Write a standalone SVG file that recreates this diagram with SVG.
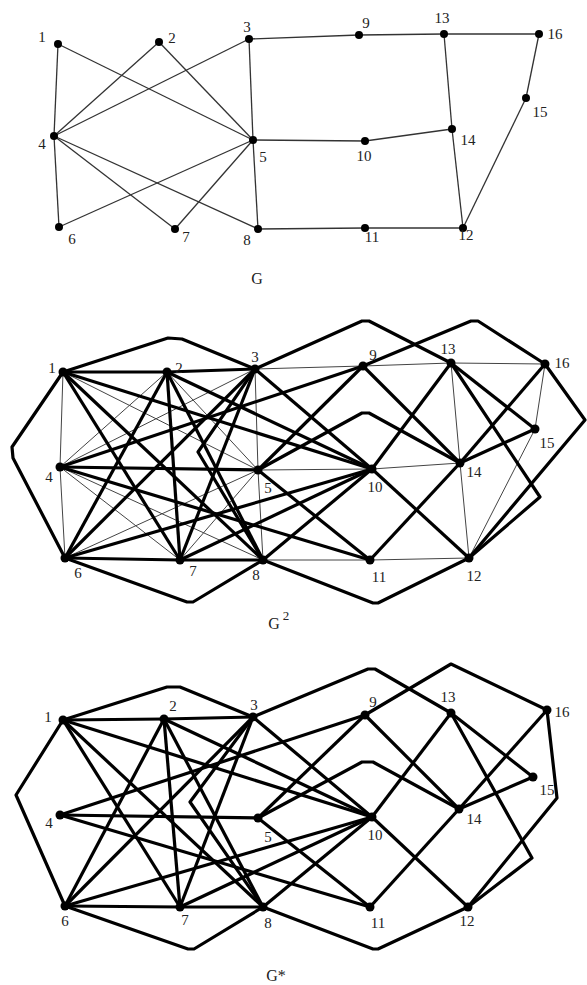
<svg xmlns="http://www.w3.org/2000/svg" width="587" height="985" viewBox="0 0 587 985">
<style>
.bg{fill:#fff}
.e0{stroke:#333;stroke-width:1.3;fill:none}
.thin{stroke:#444;stroke-width:1;fill:none}
.thick{stroke:#000;stroke-width:3.2;fill:none;stroke-linejoin:round}
.dot{fill:#000}
.lbl{font-family:"Liberation Serif","Times New Roman",serif;font-size:15px;fill:#222;text-anchor:middle}
.ttl{font-family:"Liberation Serif","Times New Roman",serif;font-size:16px;fill:#222;text-anchor:middle}
</style>
<rect class="bg" x="0" y="0" width="587" height="985"/>

<!-- ===== Graph G ===== -->
<g id="graph-G">
<g id="G-edges">
<line class="e0" x1="58" y1="44" x2="54" y2="136"/>
<line class="e0" x1="54" y1="136" x2="59" y2="227"/>
<line class="e0" x1="58" y1="44" x2="253" y2="140"/>
<line class="e0" x1="159" y1="42" x2="54" y2="136"/>
<line class="e0" x1="159" y1="42" x2="253" y2="140"/>
<line class="e0" x1="249" y1="39" x2="54" y2="136"/>
<line class="e0" x1="249" y1="39" x2="253" y2="140"/>
<line class="e0" x1="249" y1="39" x2="359" y2="35"/>
<line class="e0" x1="359" y1="35" x2="444" y2="34"/>
<line class="e0" x1="444" y1="34" x2="539" y2="34"/>
<line class="e0" x1="539" y1="34" x2="526" y2="98"/>
<line class="e0" x1="526" y1="98" x2="463" y2="228"/>
<line class="e0" x1="444" y1="34" x2="452" y2="129"/>
<line class="e0" x1="452" y1="129" x2="365" y2="141"/>
<line class="e0" x1="365" y1="141" x2="253" y2="140"/>
<line class="e0" x1="452" y1="129" x2="463" y2="228"/>
<line class="e0" x1="463" y1="228" x2="365" y2="228"/>
<line class="e0" x1="365" y1="228" x2="258" y2="229"/>
<line class="e0" x1="258" y1="229" x2="253" y2="140"/>
<line class="e0" x1="54" y1="136" x2="175" y2="229"/>
<line class="e0" x1="54" y1="136" x2="258" y2="229"/>
<line class="e0" x1="59" y1="227" x2="253" y2="140"/>
<line class="e0" x1="175" y1="229" x2="253" y2="140"/>
</g>
<g id="G-n1"><circle class="dot" cx="58" cy="44" r="4"/><text class="lbl" x="42" y="42">1</text></g>
<g id="G-n2"><circle class="dot" cx="159" cy="42" r="4"/><text class="lbl" x="172" y="43">2</text></g>
<g id="G-n3"><circle class="dot" cx="249" cy="39" r="4"/><text class="lbl" x="247" y="32">3</text></g>
<g id="G-n4"><circle class="dot" cx="54" cy="136" r="4"/><text class="lbl" x="42" y="149">4</text></g>
<g id="G-n5"><circle class="dot" cx="253" cy="140" r="4"/><text class="lbl" x="263" y="162">5</text></g>
<g id="G-n6"><circle class="dot" cx="59" cy="227" r="4"/><text class="lbl" x="72" y="244">6</text></g>
<g id="G-n7"><circle class="dot" cx="175" cy="229" r="4"/><text class="lbl" x="186" y="242">7</text></g>
<g id="G-n8"><circle class="dot" cx="258" cy="229" r="4"/><text class="lbl" x="247" y="245">8</text></g>
<g id="G-n9"><circle class="dot" cx="359" cy="35" r="4"/><text class="lbl" x="366" y="28">9</text></g>
<g id="G-n10"><circle class="dot" cx="365" cy="141" r="4"/><text class="lbl" x="364" y="161">10</text></g>
<g id="G-n11"><circle class="dot" cx="365" cy="228" r="4"/><text class="lbl" x="372" y="242">11</text></g>
<g id="G-n12"><circle class="dot" cx="463" cy="228" r="4"/><text class="lbl" x="466" y="240">12</text></g>
<g id="G-n13"><circle class="dot" cx="444" cy="34" r="4"/><text class="lbl" x="442" y="23">13</text></g>
<g id="G-n14"><circle class="dot" cx="452" cy="129" r="4"/><text class="lbl" x="468" y="145">14</text></g>
<g id="G-n15"><circle class="dot" cx="526" cy="98" r="4"/><text class="lbl" x="540" y="117">15</text></g>
<g id="G-n16"><circle class="dot" cx="539" cy="34" r="4"/><text class="lbl" x="555" y="39">16</text></g>
<text class="ttl" x="257" y="284">G</text>
</g>

<!-- ===== Graph G^2 ===== -->
<g id="graph-G2">
<g id="G2-edges-thin">
<line class="thin" x1="63" y1="372" x2="60" y2="467"/>
<line class="thin" x1="60" y1="467" x2="65" y2="558"/>
<line class="thin" x1="63" y1="372" x2="258" y2="470"/>
<line class="thin" x1="167" y1="372" x2="60" y2="467"/>
<line class="thin" x1="167" y1="372" x2="258" y2="470"/>
<line class="thin" x1="255" y1="369" x2="60" y2="467"/>
<line class="thin" x1="255" y1="369" x2="258" y2="470"/>
<line class="thin" x1="255" y1="369" x2="363" y2="366"/>
<line class="thin" x1="363" y1="366" x2="451" y2="363"/>
<line class="thin" x1="451" y1="363" x2="545" y2="364"/>
<line class="thin" x1="545" y1="364" x2="535" y2="429"/>
<line class="thin" x1="535" y1="429" x2="469" y2="558"/>
<line class="thin" x1="451" y1="363" x2="460" y2="463"/>
<line class="thin" x1="460" y1="463" x2="372" y2="469"/>
<line class="thin" x1="372" y1="469" x2="258" y2="470"/>
<line class="thin" x1="460" y1="463" x2="469" y2="558"/>
<line class="thin" x1="469" y1="558" x2="370" y2="560"/>
<line class="thin" x1="370" y1="560" x2="263" y2="560"/>
<line class="thin" x1="263" y1="560" x2="258" y2="470"/>
<line class="thin" x1="60" y1="467" x2="180" y2="560"/>
<line class="thin" x1="60" y1="467" x2="263" y2="560"/>
<line class="thin" x1="65" y1="558" x2="258" y2="470"/>
<line class="thin" x1="180" y1="560" x2="258" y2="470"/>
</g>
<g id="G2-edges-thick">
<polyline class="thick" points="63,372 167,372"/>
<polyline class="thick" points="167,372 255,369"/>
<polyline class="thick" points="63,372 168,338 182,339 255,369"/>
<polyline class="thick" points="63,372 12,447 13,458 65,558"/>
<polyline class="thick" points="63,372 180,560"/>
<polyline class="thick" points="63,372 263,560"/>
<polyline class="thick" points="63,372 372,469"/>
<polyline class="thick" points="167,372 65,558"/>
<polyline class="thick" points="167,372 180,560"/>
<polyline class="thick" points="167,372 263,560"/>
<polyline class="thick" points="167,372 372,469"/>
<polyline class="thick" points="255,369 65,558"/>
<polyline class="thick" points="255,369 180,560"/>
<polyline class="thick" points="255,369 198,452 263,560"/>
<polyline class="thick" points="255,369 372,469"/>
<polyline class="thick" points="255,369 362,321 369,321 451,363"/>
<polyline class="thick" points="60,467 258,470"/>
<polyline class="thick" points="60,467 363,366"/>
<polyline class="thick" points="60,467 370,560"/>
<polyline class="thick" points="258,470 363,366"/>
<polyline class="thick" points="258,470 370,560"/>
<polyline class="thick" points="258,470 362,413 369,413 460,463"/>
<polyline class="thick" points="65,558 180,560"/>
<polyline class="thick" points="65,558 187,602 193,602 263,560"/>
<polyline class="thick" points="65,558 372,469"/>
<polyline class="thick" points="180,560 263,560"/>
<polyline class="thick" points="180,560 372,469"/>
<polyline class="thick" points="263,560 372,469"/>
<polyline class="thick" points="263,560 373,603 378,603 469,558"/>
<polyline class="thick" points="363,366 460,463"/>
<polyline class="thick" points="363,366 471,321 478,321 545,364"/>
<polyline class="thick" points="372,469 451,363"/>
<polyline class="thick" points="372,469 469,558"/>
<polyline class="thick" points="370,560 460,463"/>
<polyline class="thick" points="451,363 540,497 469,558"/>
<polyline class="thick" points="545,364 585,420 469,558"/>
<polyline class="thick" points="451,363 535,429"/>
<polyline class="thick" points="460,463 545,364"/>
<polyline class="thick" points="460,463 535,429"/>
</g>
<g id="G2-n1"><circle class="dot" cx="63" cy="372" r="4.5"/><text class="lbl" x="52" y="373">1</text></g>
<g id="G2-n2"><circle class="dot" cx="167" cy="372" r="4.5"/><text class="lbl" x="179" y="373">2</text></g>
<g id="G2-n3"><circle class="dot" cx="255" cy="369" r="4.5"/><text class="lbl" x="255" y="362">3</text></g>
<g id="G2-n4"><circle class="dot" cx="60" cy="467" r="4.5"/><text class="lbl" x="49" y="482">4</text></g>
<g id="G2-n5"><circle class="dot" cx="258" cy="470" r="4.5"/><text class="lbl" x="268" y="493">5</text></g>
<g id="G2-n6"><circle class="dot" cx="65" cy="558" r="4.5"/><text class="lbl" x="78" y="578">6</text></g>
<g id="G2-n7"><circle class="dot" cx="180" cy="560" r="4.5"/><text class="lbl" x="193" y="576">7</text></g>
<g id="G2-n8"><circle class="dot" cx="263" cy="560" r="4.5"/><text class="lbl" x="256" y="580">8</text></g>
<g id="G2-n9"><circle class="dot" cx="363" cy="366" r="4.5"/><text class="lbl" x="373" y="360">9</text></g>
<g id="G2-n10"><circle class="dot" cx="372" cy="469" r="4.5"/><text class="lbl" x="375" y="492">10</text></g>
<g id="G2-n11"><circle class="dot" cx="370" cy="560" r="4.5"/><text class="lbl" x="379" y="582">11</text></g>
<g id="G2-n12"><circle class="dot" cx="469" cy="558" r="4.5"/><text class="lbl" x="474" y="581">12</text></g>
<g id="G2-n13"><circle class="dot" cx="451" cy="363" r="4.5"/><text class="lbl" x="448" y="354">13</text></g>
<g id="G2-n14"><circle class="dot" cx="460" cy="463" r="4.5"/><text class="lbl" x="474" y="477">14</text></g>
<g id="G2-n15"><circle class="dot" cx="535" cy="429" r="4.5"/><text class="lbl" x="547" y="448">15</text></g>
<g id="G2-n16"><circle class="dot" cx="545" cy="364" r="4.5"/><text class="lbl" x="562" y="368">16</text></g>
<text class="ttl" x="274" y="629">G</text>
<text class="lbl" x="286" y="620" style="font-size:13px">2</text>
</g>

<!-- ===== Graph G* ===== -->
<g id="graph-Gstar">
<g id="Gs-edges-thick">
<polyline class="thick" points="63,720 164,719"/>
<polyline class="thick" points="164,719 253,717"/>
<polyline class="thick" points="63,720 167,687 180,687 253,717"/>
<polyline class="thick" points="63,720 16,795 65,906"/>
<polyline class="thick" points="63,720 180,907"/>
<polyline class="thick" points="63,720 263,907"/>
<polyline class="thick" points="63,720 372,817"/>
<polyline class="thick" points="164,719 65,906"/>
<polyline class="thick" points="164,719 180,907"/>
<polyline class="thick" points="164,719 263,907"/>
<polyline class="thick" points="164,719 372,817"/>
<polyline class="thick" points="253,717 65,906"/>
<polyline class="thick" points="253,717 180,907"/>
<polyline class="thick" points="253,717 190,802 263,907"/>
<polyline class="thick" points="253,717 372,817"/>
<polyline class="thick" points="253,717 368,669 375,669 451,713"/>
<polyline class="thick" points="60,815 258,818"/>
<polyline class="thick" points="60,815 365,715"/>
<polyline class="thick" points="60,815 370,907"/>
<polyline class="thick" points="258,818 365,715"/>
<polyline class="thick" points="258,818 370,907"/>
<polyline class="thick" points="258,818 362,762 373,762 459,809"/>
<polyline class="thick" points="65,906 180,907"/>
<polyline class="thick" points="65,906 188,949 194,949 263,907"/>
<polyline class="thick" points="65,906 372,817"/>
<polyline class="thick" points="180,907 263,907"/>
<polyline class="thick" points="180,907 372,817"/>
<polyline class="thick" points="263,907 372,817"/>
<polyline class="thick" points="263,907 373,949 378,949 468,907"/>
<polyline class="thick" points="365,715 459,809"/>
<polyline class="thick" points="365,715 451,664 547,710"/>
<polyline class="thick" points="372,817 451,713"/>
<polyline class="thick" points="372,817 468,907"/>
<polyline class="thick" points="370,907 459,809"/>
<polyline class="thick" points="451,713 532,858 468,907"/>
<polyline class="thick" points="547,710 557,798 468,907"/>
<polyline class="thick" points="451,713 533,777"/>
<polyline class="thick" points="459,809 547,710"/>
<polyline class="thick" points="459,809 533,777"/>
</g>
<g id="Gs-n1"><circle class="dot" cx="63" cy="720" r="4.5"/><text class="lbl" x="48" y="722">1</text></g>
<g id="Gs-n2"><circle class="dot" cx="164" cy="719" r="4.5"/><text class="lbl" x="173" y="711">2</text></g>
<g id="Gs-n3"><circle class="dot" cx="253" cy="717" r="4.5"/><text class="lbl" x="254" y="710">3</text></g>
<g id="Gs-n4"><circle class="dot" cx="60" cy="815" r="4.5"/><text class="lbl" x="49" y="828">4</text></g>
<g id="Gs-n5"><circle class="dot" cx="258" cy="818" r="4.5"/><text class="lbl" x="268" y="842">5</text></g>
<g id="Gs-n6"><circle class="dot" cx="65" cy="906" r="4.5"/><text class="lbl" x="65" y="926">6</text></g>
<g id="Gs-n7"><circle class="dot" cx="180" cy="907" r="4.5"/><text class="lbl" x="185" y="925">7</text></g>
<g id="Gs-n8"><circle class="dot" cx="263" cy="907" r="4.5"/><text class="lbl" x="268" y="928">8</text></g>
<g id="Gs-n9"><circle class="dot" cx="365" cy="715" r="4.5"/><text class="lbl" x="373" y="707">9</text></g>
<g id="Gs-n10"><circle class="dot" cx="372" cy="817" r="4.5"/><text class="lbl" x="375" y="840">10</text></g>
<g id="Gs-n11"><circle class="dot" cx="370" cy="907" r="4.5"/><text class="lbl" x="378" y="928">11</text></g>
<g id="Gs-n12"><circle class="dot" cx="468" cy="907" r="4.5"/><text class="lbl" x="467" y="926">12</text></g>
<g id="Gs-n13"><circle class="dot" cx="451" cy="713" r="4.5"/><text class="lbl" x="448" y="702">13</text></g>
<g id="Gs-n14"><circle class="dot" cx="459" cy="809" r="4.5"/><text class="lbl" x="474" y="824">14</text></g>
<g id="Gs-n15"><circle class="dot" cx="533" cy="777" r="4.5"/><text class="lbl" x="547" y="795">15</text></g>
<g id="Gs-n16"><circle class="dot" cx="547" cy="710" r="4.5"/><text class="lbl" x="562" y="717">16</text></g>
<text class="ttl" x="276" y="981">G*</text>
</g>
</svg>
